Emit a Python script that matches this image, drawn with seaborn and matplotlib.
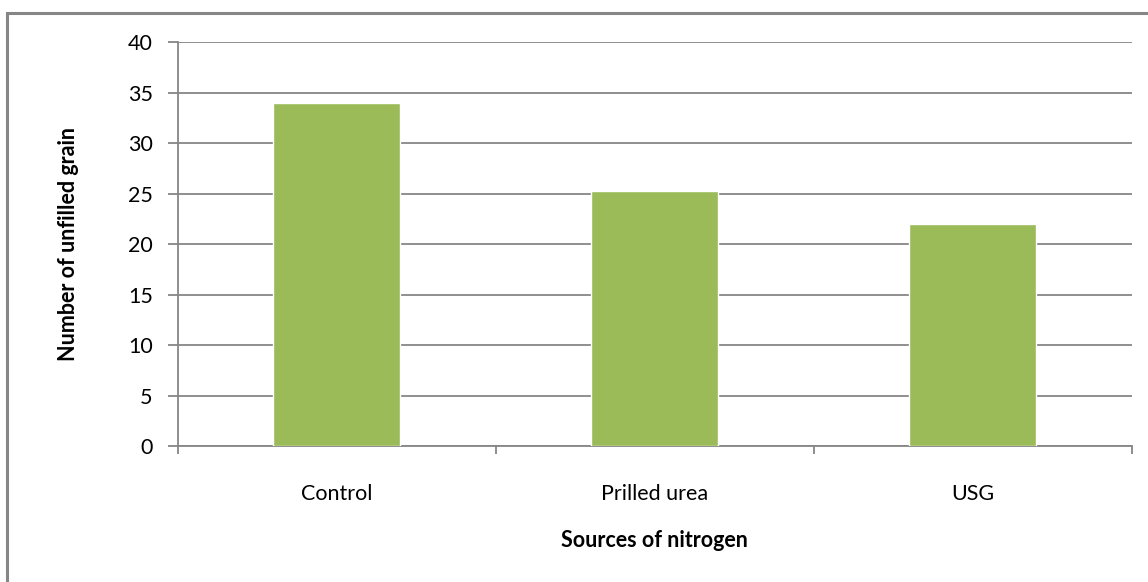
import matplotlib
matplotlib.use("Agg")
import matplotlib.pyplot as plt
import seaborn as sns
import pandas as pd
from matplotlib.patches import Rectangle

categories = ["Control", "Prilled urea", "USG"]
values = [34.0, 25.25, 22.0]
yticks = [0, 5, 10, 15, 20, 25, 30, 35, 40]

sns.set_theme(style="white")
plt.rcParams['font.family'] = ['Lato', 'DejaVu Sans']

df = pd.DataFrame({"cat": categories, "val": values})

fig = plt.figure(figsize=(11.48, 5.82), dpi=100)
ax = fig.add_axes([177.7/1148, 1-446/582, (1131.5-177.7)/1148, (446-42.3)/582])

sns.barplot(data=df, x="cat", y="val", color="#9BBB59", width=0.4, saturation=1, ax=ax, zorder=3)

gray = "#868686"
ax.set_ylim(0, 40)
ax.set_xlim(-0.5, 2.5)
ax.set_yticks(yticks)
ax.set_yticklabels([str(t) for t in yticks], fontsize=15.5, color="black")
ax.yaxis.grid(True, color=gray, linewidth=1.3, zorder=0)
ax.set_axisbelow(True)
for s in ["top", "right"]:
    ax.spines[s].set_visible(False)
for s in ["left", "bottom"]:
    ax.spines[s].set_color(gray)
    ax.spines[s].set_linewidth(1.3)

# x ticks at category boundaries, labels at centers
ax.set_xticks([-0.5, 0.5, 1.5, 2.5])
ax.set_xticklabels([])
ax.set_xticks([0, 1, 2], minor=True)
ax.set_xticklabels(categories, minor=True, fontsize=15.5, color="black")
ax.tick_params(axis="x", which="major", direction="out", length=6, width=1.3, color=gray, bottom=True)
ax.tick_params(axis="x", which="minor", length=0, pad=27, bottom=True)
ax.tick_params(axis="y", direction="out", length=7, width=1.3, color=gray, left=True, pad=11)

ax.set_xlabel("Sources of nitrogen", fontsize=15.5, fontweight="bold", labelpad=19, color="black")
ax.set_ylabel("Number of unfilled grain", fontsize=15.5, fontweight="bold", labelpad=35, color="black")

# outer chart border (clipped on right/bottom like reference)
fig.patches.append(Rectangle((7/1148, -0.1), 1.2, 1-12.5/582+0.1, transform=fig.transFigure,
                             fill=False, edgecolor=gray, linewidth=2.2))

fig.savefig("out.png", dpi=100)
